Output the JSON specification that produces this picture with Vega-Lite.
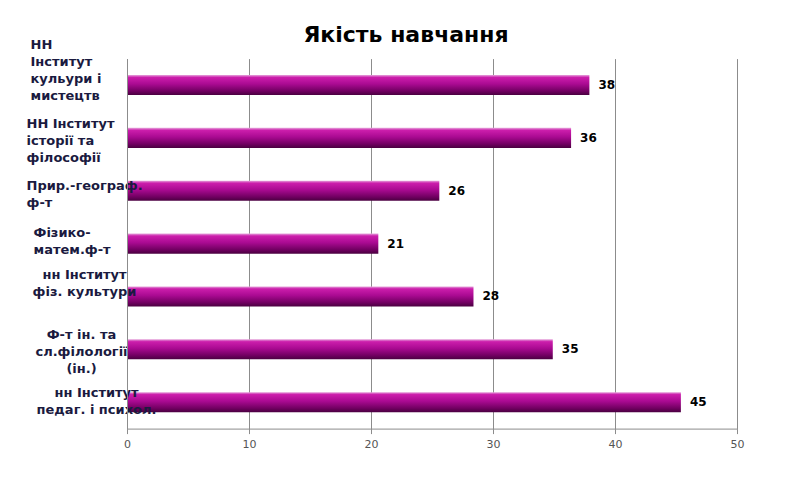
{
  "$schema": "https://vega.github.io/schema/vega-lite/v6.json",
  "width": 610,
  "height": 370,
  "autosize": {"type": "none"},
  "padding": {"left": 127, "top": 58.6, "right": 59, "bottom": 63.4},
  "background": "white",
  "title": {
    "text": "Якість навчання",
    "font": "DejaVu Sans",
    "fontSize": 22,
    "fontWeight": "bold",
    "color": "#000000",
    "offset": 12,
    "dx": -26,
    "dy": 20
  },
  "config": {"view": {"stroke": null}},
  "data": {
    "values": [
      {"unit": "НН|Інститут|кульури і|мистецтв", "value": 37.9},
      {"unit": "НН Інститут|історії  та|філософії", "value": 36.4},
      {"unit": "Прир.-географ.|ф-т", "value": 25.6},
      {"unit": "Фізико-|матем.ф-т", "value": 20.6},
      {"unit": "нн Інститут|фіз. культури", "value": 28.4},
      {"unit": "Ф-т ін. та|сл.філології|(ін.)", "value": 34.9},
      {"unit": "нн Інститут|педаг. і психол.", "value": 45.4}
    ]
  },
  "encoding": {
    "y": {
      "field": "unit",
      "type": "nominal",
      "sort": null,
      "scale": {"paddingInner": 0.62, "paddingOuter": 0.31},
      "axis": {
        "title": null,
        "labelExpr": "split(datum.value, '|')",
        "labelAlign": {
          "condition": {"test": "indexof(datum.value, 'фіз. к') >= 0 || indexof(datum.value, 'сл.ф') >= 0 || indexof(datum.value, 'педаг') >= 0", "value": "center"},
          "value": "left"
        },
        "labelBaseline": "middle",
        "labelPadding": {
          "condition": [
            {"test": "indexof(datum.value, 'кульури') >= 0", "value": 97},
            {"test": "indexof(datum.value, 'історії') >= 0", "value": 101},
            {"test": "indexof(datum.value, 'Прир') >= 0", "value": 101},
            {"test": "indexof(datum.value, 'Фізико') >= 0", "value": 94},
            {"test": "indexof(datum.value, 'фіз. к') >= 0", "value": 43},
            {"test": "indexof(datum.value, 'сл.ф') >= 0", "value": 46}
          ],
          "value": 31
        },
        "labelOffset": {
          "condition": [
            {"test": "indexof(datum.value, 'кульури') >= 0", "value": -40},
            {"test": "indexof(datum.value, 'історії') >= 0", "value": -14},
            {"test": "indexof(datum.value, 'Прир') >= 0", "value": -5},
            {"test": "indexof(datum.value, 'Фізико') >= 0", "value": -11},
            {"test": "indexof(datum.value, 'фіз. к') >= 0", "value": -21},
            {"test": "indexof(datum.value, 'сл.ф') >= 0", "value": -14}
          ],
          "value": -9
        },
        "ticks": false,
        "tickSize": 0,
        "labelFont": "DejaVu Sans",
        "labelFontWeight": "bold",
        "labelFontSize": 13,
        "labelLineHeight": 17,
        "labelColor": "#1a1a40",
        "labelLimit": 0,
        "labelBound": false,
        "labelOverlap": false,
        "domainColor": "#8c8c8c",
        "domainWidth": 1,
        "zindex": 2
      }
    },
    "x": {
      "field": "value",
      "type": "quantitative",
      "scale": {"domain": [0, 50], "nice": false},
      "axis": {
        "title": null,
        "values": [0, 10, 20, 30, 40, 50],
        "grid": true,
        "gridColor": "#8c8c8c",
        "tickColor": "#8c8c8c",
        "tickSize": 5,
        "domainColor": "#8c8c8c",
        "labelColor": "#555555",
        "labelFont": "DejaVu Sans",
        "labelFontSize": 11,
        "labelPadding": 5,
        "labelFlush": false
      }
    }
  },
  "layer": [
    {
      "mark": {
        "type": "bar",
        "color": {
          "gradient": "linear",
          "x1": 0, "y1": 0, "x2": 0, "y2": 1,
          "stops": [
            {"offset": 0, "color": "#e6a6dc"},
            {"offset": 0.12, "color": "#cc1eac"},
            {"offset": 0.45, "color": "#aa0a92"},
            {"offset": 0.8, "color": "#720062"},
            {"offset": 1, "color": "#4a0040"}
          ]
        }
      }
    },
    {
      "mark": {
        "type": "text",
        "align": "left",
        "baseline": "middle",
        "dx": 9,
        "font": "DejaVu Sans",
        "fontWeight": "bold",
        "fontSize": 12,
        "color": "#000000"
      },
      "encoding": {"text": {"field": "value", "type": "quantitative", "format": ".0f"}}
    }
  ]
}
